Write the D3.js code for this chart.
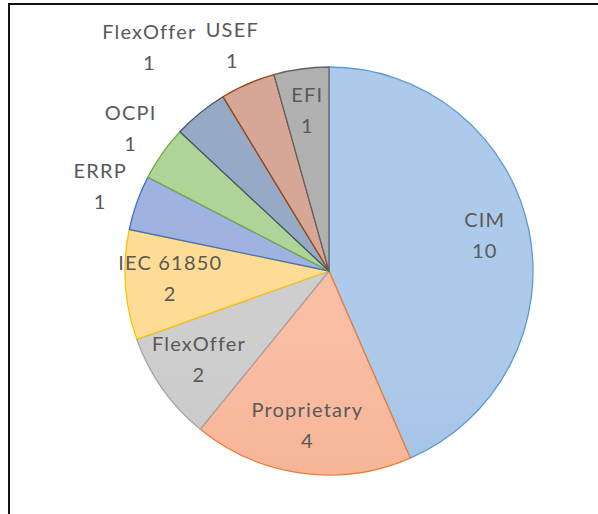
<!DOCTYPE html>
<html>
<head>
<meta charset="utf-8">
<script src="https://cdn.jsdelivr.net/npm/d3@7"></script>
<style>
  body { margin: 0; background: #fff; }
  text { font-family: Lato, "Open Sans", sans-serif; fill: #595959; }
</style>
</head>
<body>
<script>
const w = 598, h = 514

// data, clockwise from 12 o'clock
const labels = ['CIM', 'Proprietary', 'FlexOffer', 'IEC 61850', 'ERRP', 'OCPI', 'FlexOffer', 'USEF', 'EFI']
const values = [10, 4, 2, 2, 1, 1, 1, 1, 1]

// fill (top, bottom of gradient) and outline per slice
const fillTop = ['#aecaea', '#f9bea5', '#cecece', '#ffdc95', '#a0b2e0', '#afd497', '#97aac5', '#d6a697', '#b0b0b0']
const fillBot = ['#98b9e1', '#f4a27d', '#c2c2c2', '#fed385', '#93a6da', '#a2ca88', '#889cba', '#c99888', '#a2a2a2']
const strokes = ['#5b9bd5', '#ed7d31', '#a5a5a5', '#ffc000', '#4472c4', '#70ad47', '#44546a', '#9e480e', '#636363']

const cx = 329, cy = 271, r = 204
const fontSize = 20, lineH = 31

const svg = d3.select('body').append('svg')
    .attr('width', w).attr('height', h)

// frame (only top and left edges visible in the crop)
svg.append('line').attr('x1', 8).attr('y1', 4).attr('x2', w).attr('y2', 4)
    .attr('stroke', '#111').attr('stroke-width', 2)
svg.append('line').attr('x1', 9).attr('y1', 3).attr('x2', 9).attr('y2', h)
    .attr('stroke', '#111').attr('stroke-width', 2)

const defs = svg.append('defs')
values.forEach((v, i) => {
    const g = defs.append('linearGradient').attr('id', 'g' + i)
        .attr('gradientUnits', 'userSpaceOnUse')
        .attr('x1', 0).attr('y1', cy - r).attr('x2', 0).attr('y2', cy + r)
    g.append('stop').attr('offset', '0%').attr('stop-color', fillTop[i])
    g.append('stop').attr('offset', '100%').attr('stop-color', fillBot[i])
})

const pie = d3.pie().sort(null).value(d => d)
const arcs = pie(values)
const arc = d3.arc().innerRadius(0).outerRadius(r)

const gPie = svg.append('g').attr('transform', `translate(${cx},${cy})`)
gPie.selectAll('path').data(arcs).enter().append('path')
    .attr('d', arc)
    .attr('fill', (d, i) => `url(#g${i})`)
    .attr('stroke', (d, i) => strokes[i])
    .attr('stroke-width', 1.3)
    .attr('stroke-linejoin', 'round')

// label layout: inside if the slice is big enough, else outside, pushed out on collision
const inR = r * 0.78, outR = r * 1.19
const boxes = []
function box(p, i) {
    const tw = labels[i].length * fontSize * 0.6 + 4
    return { x0: p.x - tw / 2, x1: p.x + tw / 2, y0: p.y - 25, y1: p.y + 25 }
}
function hit(a, b) {
    return a.x0 < b.x1 && b.x0 < a.x1 && a.y0 < b.y1 && b.y0 < a.y1
}
function at(a, rad) {
    const m = (a.startAngle + a.endAngle) / 2
    return { x: Math.sin(m) * rad, y: -Math.cos(m) * rad }
}
const pos = arcs.map(() => null)
// inside labels
arcs.forEach((a, i) => {
    if (values[i] >= 2 || i === arcs.length - 1) pos[i] = at(a, inR)
})
// outside labels, placed from the top going anticlockwise
for (let i = arcs.length - 2; i >= 0; i--) {
    if (pos[i]) continue
    let rad = outR, p = at(arcs[i], rad)
    while (boxes.some(b => hit(box(p, i), b)) && rad < r * 1.6) {
        rad += 2
        p = at(arcs[i], rad)
    }
    pos[i] = p
    boxes.push(box(p, i))
}

const gLab = gPie.selectAll('text.lab').data(arcs).enter().append('text')
    .attr('class', 'lab')
    .attr('text-anchor', 'middle')
    .attr('font-size', fontSize)
    .attr('letter-spacing', 1.2)
    .attr('transform', (d, i) => `translate(${pos[i].x},${pos[i].y})`)
gLab.append('tspan').attr('x', 0).attr('y', -lineH / 2 + 4).text((d, i) => labels[i])
gLab.append('tspan').attr('x', 0).attr('y', lineH / 2 + 4).text((d, i) => values[i])
</script>
</body>
</html>
